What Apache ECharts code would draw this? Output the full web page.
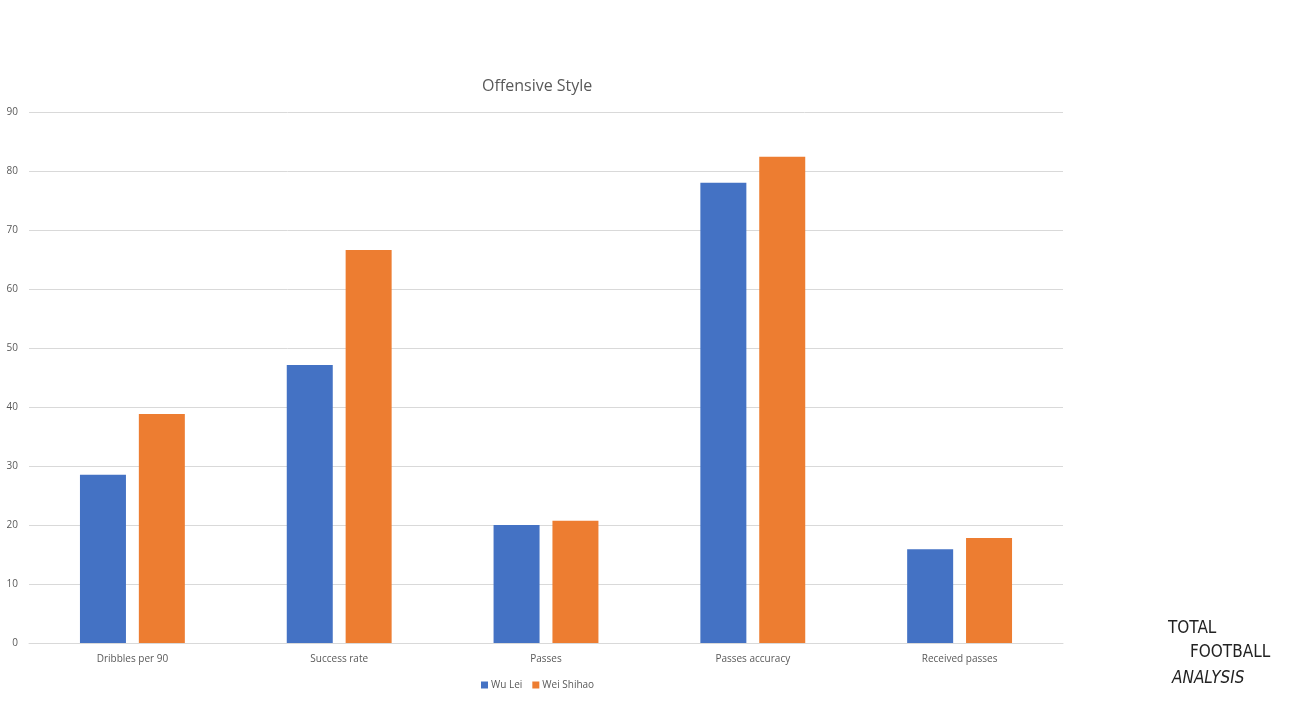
<!DOCTYPE html>
<html>
<head>
<meta charset="utf-8">
<script src="https://cdn.jsdelivr.net/npm/echarts@6/dist/echarts.min.js"></script>
<style>
    html, body { margin: 0; padding: 0; background: #fff; }
    #chart { width: 1303px; height: 708px; }
</style>
</head>
<body>
<div id="chart"></div>
<script>
const categories = ['Dribbles per 90', 'Success rate', 'Passes', 'Passes accuracy', 'Received passes'];
const wuLei = [28.5, 47.1, 20.0, 78.0, 15.9];
const weiShihao = [38.8, 66.6, 20.7, 82.4, 17.8];
const yTicks = [0, 90, 10]; // min, max, interval

const chart = echarts.init(document.getElementById('chart'));
chart.setOption({
    animation: false,
    textStyle: { fontFamily: 'Open Sans, Liberation Sans, sans-serif' },
    title: {
        text: 'Offensive Style',
        left: 477,
        top: 73,
        textStyle: { fontSize: 16, fontWeight: 'normal', color: '#595959' }
    },
    legend: {
        data: ['Wu Lei', 'Wei Shihao'],
        left: 476,
        top: 675,
        itemWidth: 7,
        itemHeight: 7,
        itemGap: 10,
        icon: 'rect',
        textStyle: { fontSize: 10, color: '#595959', padding: [0, 0, 0, -2] }
    },
    grid: { left: 29, right: 240, top: 112, bottom: 65 },
    xAxis: {
        type: 'category',
        data: categories,
        axisTick: { show: false },
        axisLine: { lineStyle: { color: '#d9d9d9' } },
        axisLabel: { color: '#595959', fontSize: 10, margin: 11 }
    },
    yAxis: {
        type: 'value',
        min: yTicks[0],
        max: yTicks[1],
        interval: yTicks[2],
        axisLabel: { color: '#595959', fontSize: 10, margin: 11 },
        splitLine: { lineStyle: { color: '#d9d9d9' } }
    },
    series: [
        {
            name: 'Wu Lei', type: 'bar', data: wuLei,
            barWidth: 46, barGap: '28%',
            itemStyle: { color: '#4472c4' }
        },
        {
            name: 'Wei Shihao', type: 'bar', data: weiShihao,
            barWidth: 46, barGap: '28%',
            itemStyle: { color: '#ed7d31' }
        }
    ],
    graphic: [
        { type: 'text', left: 1168, top: 620, style: { text: 'TOTAL', font: '17px DejaVu Sans Condensed', fill: '#222' } },
        { type: 'text', left: 1190, top: 644, style: { text: 'FOOTBALL', font: '17px DejaVu Sans Condensed', fill: '#222' } },
        { type: 'text', left: 1172, top: 670, style: { text: 'ANALYSIS', font: 'italic 17px DejaVu Sans Condensed', fill: '#222' } }
    ]
});
</script>
</body>
</html>
